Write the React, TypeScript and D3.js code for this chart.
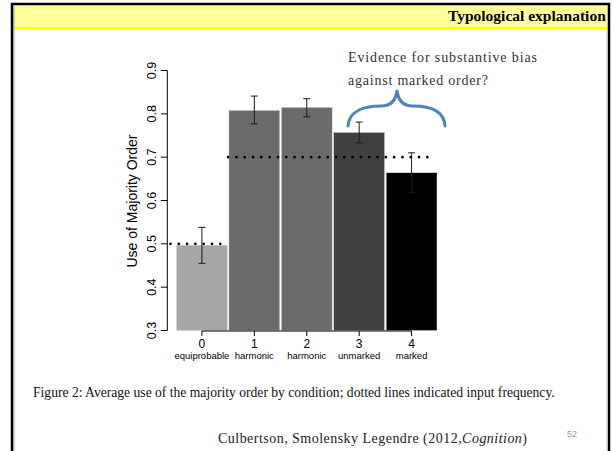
import * as d3 from "d3";

// conditions along the x axis
const conditions = ["0", "1", "2", "3", "4"];
const conditionNames = ["equiprobable", "harmonic", "harmonic", "unmarked", "marked"];
// mean use of majority order, with error bar ends
const meanUse = [0.497, 0.808, 0.815, 0.757, 0.664];
const errLow = [0.455, 0.777, 0.793, 0.733, 0.618];
const errHigh = [0.538, 0.841, 0.835, 0.781, 0.71];
const barFills = ["#a6a6a6", "#6b6b6b", "#6b6b6b", "#404040", "#000000"];
const yTicks = [0.3, 0.4, 0.5, 0.6, 0.7, 0.8, 0.9];
// dotted input frequency lines (from/to in condition units)
const inputFreqValues = [0.5, 0.7];
const inputFreqFrom = [-0.6, 0.5];
const inputFreqTo = [0.5, 4.42];

const W = 613;
const H = 451;

const App = () => {
  const x = d3.scaleBand().domain(conditions).range([176.5, 437]).paddingInner(0.03);
  const xPos = d3.scaleLinear().domain([0, 4]).range([x("0")! + x.bandwidth() / 2, x("4")! + x.bandwidth() / 2]);
  const y = d3.scaleLinear().domain([0.3, 0.9]).range([330.5, 70.5]);
  const axisX = 167.3;
  const axisY = 331;

  const brace = "M348,126 C349,110 366,106 381,106 C391,106 396,101 397,90 C398,101 403,106 413,106 C428,106 444,110 445,126";

  return (
    <svg width={W} height={H} style={{ position: "absolute", left: 0, top: 0, background: "#fff" }}>
      <defs>
        <clipPath id="slide">
          <rect x={12} y={4} width={596} height={H} />
        </clipPath>
      </defs>
      {/* header band */}
      <rect x={12} y={5} width={596} height={22} fill="#ffff99" />
      <rect x={12} y={27} width={596} height={2.5} fill="#ffff00" />
      <g clipPath="url(#slide)">
        <text x={448} y={21} fontFamily="Liberation Serif" fontWeight="bold" fontSize={15.5} fill="#000">
          Typological explanation
        </text>
      </g>
      {/* slide border */}
      <path d={`M12,${H} V4 H609 V${H}`} fill="none" stroke="#000" strokeWidth={2.5} />
      <line x1={14} x2={14} y1={6} y2={H} stroke="#999" strokeWidth={1} />
      <line x1={607} x2={607} y1={30} y2={H} stroke="#bbb" strokeWidth={1} />

      {/* bars */}
      {conditions.map((c, i) => (
        <rect
          key={c}
          x={x(c)}
          y={y(meanUse[i])}
          width={x.bandwidth()}
          height={y(0.3) - y(meanUse[i])}
          fill={barFills[i]}
          stroke="#d8d8d8"
          strokeWidth={0.5}
        />
      ))}

      {/* input frequency dotted lines */}
      {inputFreqValues.map((v, i) => (
        <line
          key={i}
          x1={xPos(inputFreqFrom[i])}
          x2={xPos(inputFreqTo[i])}
          y1={y(v)}
          y2={y(v)}
          stroke="#000"
          strokeWidth={2.8}
          strokeLinecap="round"
          strokeDasharray="0 8.3"
        />
      ))}

      {/* error bars */}
      {conditions.map((c, i) => {
        const cx = xPos(i);
        return (
          <g key={c} stroke="#1a1a1a" strokeWidth={1}>
            <line x1={cx} x2={cx} y1={y(errLow[i])} y2={y(errHigh[i])} />
            <line x1={cx - 3.5} x2={cx + 3.5} y1={y(errLow[i])} y2={y(errLow[i])} />
            <line x1={cx - 3.5} x2={cx + 3.5} y1={y(errHigh[i])} y2={y(errHigh[i])} />
          </g>
        );
      })}

      {/* y axis */}
      <g fontFamily="Liberation Sans, Arial, sans-serif" fill="#000">
        <line x1={axisX} x2={axisX} y1={y(0.3)} y2={y(0.9)} stroke="#000" strokeWidth={1} />
        {yTicks.map((t) => (
          <g key={t}>
            <line x1={axisX - 6.5} x2={axisX} y1={y(t)} y2={y(t)} stroke="#000" strokeWidth={1} />
            <text
              transform={`translate(${155.5},${y(t)}) rotate(-90)`}
              textAnchor="middle"
              fontSize={12.5}
            >
              {t.toFixed(1)}
            </text>
          </g>
        ))}
        <text transform={`translate(${136.5},${201}) rotate(-90)`} textAnchor="middle" fontSize={14}>
          Use of Majority Order
        </text>
      </g>

      {/* x axis */}
      <g fontFamily="Liberation Sans, Arial, sans-serif" fill="#000">
        <line x1={xPos(0)} x2={xPos(4)} y1={axisY} y2={axisY} stroke="#000" strokeWidth={1} />
        {conditions.map((c, i) => (
          <g key={c}>
            <line x1={xPos(i)} x2={xPos(i)} y1={axisY} y2={axisY + 5} stroke="#000" strokeWidth={1} />
            <text x={xPos(i)} y={347.5} textAnchor="middle" fontSize={12}>
              {c}
            </text>
            <text x={xPos(i)} y={359} textAnchor="middle" fontSize={9.5}>
              {conditionNames[i]}
            </text>
          </g>
        ))}
      </g>

      {/* annotation */}
      <g fontFamily="Liberation Serif" fontSize={14} fill="#333">
        <text x={348} y={62} textLength={189} lengthAdjust="spacing">
          Evidence  for substantive  bias
        </text>
        <text x={348} y={85} textLength={140} lengthAdjust="spacing">
          against  marked  order?
        </text>
      </g>
      <path d={brace} fill="none" stroke="#4f81bd" strokeWidth={3} strokeLinecap="round" />

      {/* caption */}
      <text x={33} y={397} fontFamily="Liberation Serif" fontSize={13.6} fill="#111">
        Figure 2: Average use of the majority order by condition; dotted lines indicated input frequency.
      </text>
      <text x={218} y={443} fontFamily="Liberation Serif" fontSize={14} fill="#222" textLength={309} lengthAdjust="spacing">
        Culbertson,  Smolensky  Legendre  (2012,<tspan fontStyle="italic">Cognition</tspan>)
      </text>
      <text x={567} y={437} fontFamily="Liberation Sans, Arial, sans-serif" fontSize={9} fill="#999">
        52
      </text>
    </svg>
  );
};

export default App;
